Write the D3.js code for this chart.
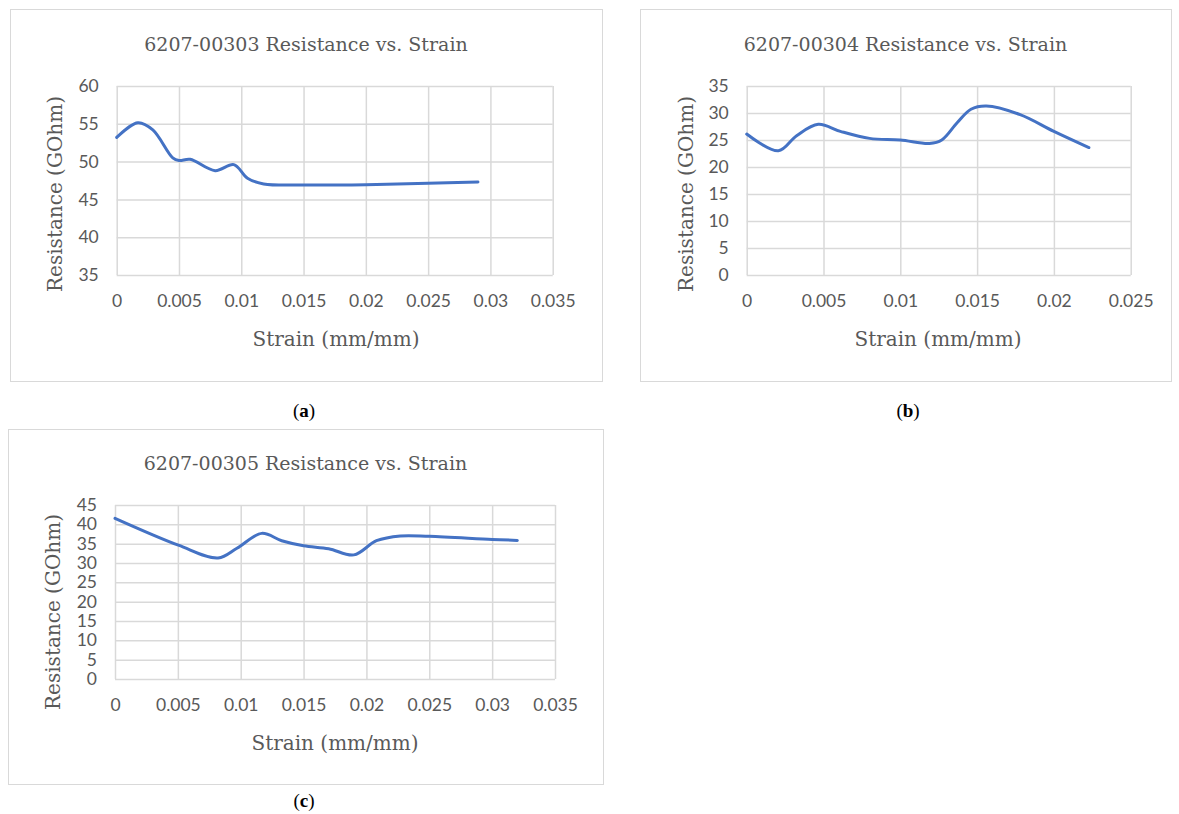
<!DOCTYPE html>
<html>
<head>
<meta charset="utf-8">
<script src="https://cdn.jsdelivr.net/npm/d3@7"></script>
<style>
  html, body { margin: 0; padding: 0; background: #ffffff; }
  svg { display: block; }
</style>
</head>
<body>
<svg id="chart" width="1179" height="814"></svg>
<script>
// ---------- DATA ----------
const titleA = "6207-00303 Resistance vs. Strain";
const titleB = "6207-00304 Resistance vs. Strain";
const titleC = "6207-00305 Resistance vs. Strain";
const xLabel = "Strain (mm/mm)";
const yLabel = "Resistance (GOhm)";
const captions = ["a", "b", "c"];

const strainA     = [0, 0.0017, 0.0029, 0.0045, 0.005, 0.0059, 0.0079, 0.0094, 0.0105, 0.0118, 0.015, 0.02, 0.025, 0.029];
const resistanceA = [53.2, 55.15, 54.2, 50.5, 50.15, 50.3, 48.8, 49.6, 47.8, 47.05, 46.9, 46.95, 47.15, 47.3];

const strainB     = [0, 0.00206, 0.00325, 0.00466, 0.0061, 0.008, 0.0100, 0.0119, 0.0127, 0.0137, 0.0146, 0.0156, 0.0178, 0.02, 0.02228];
const resistanceB = [26.1, 23.0, 25.8, 27.9, 26.6, 25.3, 25.0, 24.35, 25.0, 28.2, 30.7, 31.3, 29.7, 26.6, 23.6];

const strainC     = [0, 0.00504, 0.0082, 0.0097, 0.01167, 0.01326, 0.015, 0.017, 0.019, 0.0208, 0.0227, 0.025, 0.03, 0.032];
const resistanceC = [41.55, 34.6, 31.3, 33.8, 37.66, 35.76, 34.46, 33.7, 32.1, 35.76, 37.0, 36.9, 36.1, 35.85];

const xTicksA = [0, 0.005, 0.01, 0.015, 0.02, 0.025, 0.03, 0.035];
const xTickLabelsA = ["0", "0.005", "0.01", "0.015", "0.02", "0.025", "0.03", "0.035"];
const yTicksA = [35, 40, 45, 50, 55, 60];

const xTicksB = [0, 0.005, 0.01, 0.015, 0.02, 0.025];
const xTickLabelsB = ["0", "0.005", "0.01", "0.015", "0.02", "0.025"];
const yTicksB = [0, 5, 10, 15, 20, 25, 30, 35];

const xTicksC = [0, 0.005, 0.01, 0.015, 0.02, 0.025, 0.03, 0.035];
const xTickLabelsC = ["0", "0.005", "0.01", "0.015", "0.02", "0.025", "0.03", "0.035"];
const yTicksC = [0, 5, 10, 15, 20, 25, 30, 35, 40, 45];

// ---------- LAYOUT ----------
const svg = d3.select("#chart");
const GRID = "#d9d9d9";
const TEXT = "#595959";
const LINE = "#4472c4";
const SERIF = "'DejaVu Serif', 'Liberation Serif', serif";
const SANS = "Lato, 'Open Sans', sans-serif";

const panels = [
  { title: titleA, xs: strainA, ys: resistanceA, xTicks: xTicksA, xTickLabels: xTickLabelsA, yTicks: yTicksA,
    box: [10, 9, 592, 372], plot: [116.7, 86, 436, 189], titleY: 51, xTitleX: 336, xTitleY: 346, yTitleX: 62, yTitleY: 194,
    caption: captions[0], capX: 304, capY: 417 },
  { title: titleB, xs: strainB, ys: resistanceB, xTicks: xTicksB, xTickLabels: xTickLabelsB, yTicks: yTicksB,
    box: [640, 9, 531, 372], plot: [746.7, 86, 384, 189], titleY: 51, xTitleX: 938, xTitleY: 346, yTitleX: 693, yTitleY: 194,
    caption: captions[1], capX: 908, capY: 417 },
  { title: titleC, xs: strainC, ys: resistanceC, xTicks: xTicksC, xTickLabels: xTickLabelsC, yTicks: yTicksC,
    box: [8, 429, 595, 355], plot: [115, 505, 440, 174], titleY: 470, xTitleX: 335, xTitleY: 750, yTitleX: 60, yTitleY: 612,
    caption: captions[2], capX: 304, capY: 807 }
];

panels.forEach(p => {
  const [bx, by, bw, bh] = p.box;
  const [px, py, pw, ph] = p.plot;

  svg.append("rect")
    .attr("x", bx + 0.5).attr("y", by + 0.5)
    .attr("width", bw).attr("height", bh)
    .attr("fill", "#fff").attr("stroke", GRID).attr("stroke-width", 1);

  const x = d3.scaleLinear().domain([p.xTicks[0], p.xTicks[p.xTicks.length - 1]]).range([px, px + pw]);
  const y = d3.scaleLinear().domain([p.yTicks[0], p.yTicks[p.yTicks.length - 1]]).range([py + ph, py]);

  // x axis with vertical gridlines
  const gx = svg.append("g")
    .attr("transform", `translate(0,${py + ph})`)
    .call(d3.axisBottom(x).tickValues(p.xTicks)
      .tickFormat((d, i) => p.xTickLabels[i])
      .tickSize(-ph).tickPadding(20));
  gx.select(".domain").remove();
  gx.selectAll(".tick line").attr("stroke", GRID).attr("stroke-width", 1.5);
  gx.selectAll(".tick text").attr("fill", TEXT)
    .style("font-family", SANS).style("font-size", "17.5px");

  // y axis with horizontal gridlines
  const gy = svg.append("g")
    .attr("transform", `translate(${px},0)`)
    .call(d3.axisLeft(y).tickValues(p.yTicks).tickFormat(d3.format("d"))
      .tickSize(-pw).tickPadding(18));
  gy.select(".domain").remove();
  gy.selectAll(".tick line").attr("stroke", GRID).attr("stroke-width", 1.5);
  gy.selectAll(".tick text").attr("fill", TEXT)
    .style("font-family", SANS).style("font-size", "17.5px");

  // line
  const line = d3.line()
    .x((d, i) => x(p.xs[i]))
    .y((d, i) => y(p.ys[i]))
    .curve(d3.curveCatmullRom.alpha(0.5));
  svg.append("path")
    .attr("d", line(p.xs))
    .attr("fill", "none")
    .attr("stroke", LINE)
    .attr("stroke-width", 3)
    .attr("stroke-linecap", "round")
    .attr("stroke-linejoin", "round");

  // title
  svg.append("text")
    .attr("x", bx + bw / 2).attr("y", p.titleY)
    .attr("text-anchor", "middle")
    .attr("fill", TEXT)
    .style("font-family", SERIF).style("font-size", "19px")
    .text(p.title);

  // x-axis title
  svg.append("text")
    .attr("x", p.xTitleX).attr("y", p.xTitleY)
    .attr("text-anchor", "middle")
    .attr("fill", TEXT)
    .style("font-family", SERIF).style("font-size", "20px")
    .text(xLabel);

  // y-axis title
  svg.append("text")
    .attr("transform", `translate(${p.yTitleX},${p.yTitleY}) rotate(-90)`)
    .attr("text-anchor", "middle")
    .attr("fill", TEXT)
    .style("font-family", SERIF).style("font-size", "20px")
    .text(yLabel);

  // caption
  const cap = svg.append("text")
    .attr("x", p.capX).attr("y", p.capY)
    .attr("text-anchor", "middle")
    .attr("fill", "#000")
    .style("font-family", "'Liberation Serif', serif").style("font-size", "19px");
  cap.append("tspan").text("(");
  cap.append("tspan").style("font-weight", "bold").text(p.caption);
  cap.append("tspan").text(")");
});
</script>
</body>
</html>
